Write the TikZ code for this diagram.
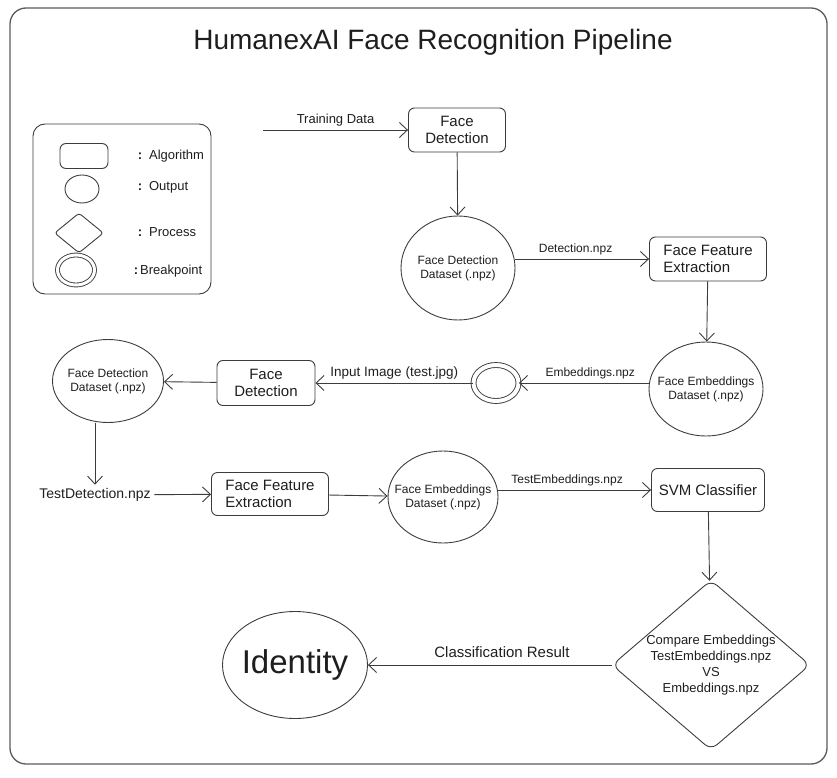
\documentclass[tikz,border=0pt]{standalone}
\usepackage{fontspec}
\setmainfont{Liberation Sans}
\usetikzlibrary{shapes.geometric,arrows.meta}
\definecolor{linegray}{HTML}{3C3C3C}
\definecolor{framegray}{HTML}{5A5A5A}
\definecolor{inkblack}{HTML}{1E1E1E}

\tikzset{
  algo/.style={draw=linegray, rounded corners=6pt, align=center, inner sep=0pt, text=inkblack, font=\fontsize{15}{17}\selectfont},
  outp/.style={draw=linegray, ellipse, align=center, inner sep=-10pt, text=inkblack, font=\fontsize{12}{14}\selectfont},
  proc/.style={draw=linegray, diamond, align=center, inner sep=0pt, text=inkblack, font=\fontsize{13}{16}\selectfont},
  flow/.style={draw=linegray, -{Straight Barb[length=8pt,width=15pt]}},
  lbl/.style={text=inkblack, font=\fontsize{12}{14}\selectfont},
  colon/.style={text=inkblack, font=\fontsize{13}{15}\selectfont, anchor=west}
}

\begin{document}
\begin{tikzpicture}[x=1pt, y=-1pt, line width=0.9pt]
      \useasboundingbox (0,0) rectangle (837,778);
      \draw[framegray, line width=1.3pt, rounded corners=16pt] (10,8) rectangle (827,764);

      \node[text=inkblack, font=\fontsize{28}{32}\selectfont] (title) at (433,42) {HumanexAI Face Recognition Pipeline};

      \node[draw=linegray, rounded corners=12pt, minimum width=178, minimum height=170] (legend) at (122,209) {};
      \node[algo, minimum width=48, minimum height=25] (lgalgo) at (84,156) {};
      \node[outp, minimum width=34, minimum height=28] (lgout) at (82,189) {};
      \node[proc, rounded corners=3pt, minimum width=49, minimum height=40] (lgproc) at (79,233) {};
      \node[outp, double, double distance=3pt, minimum width=37, minimum height=30] (lgbreak) at (76,270) {};
      \node[colon] (lgalgotext) at (134,156) {\textbf{:}\hspace{7pt}Algorithm};
      \node[colon] (lgouttext) at (134,187) {\textbf{:}\hspace{7pt}Output};
      \node[colon] (lgproctext) at (134,232) {\textbf{:}\hspace{7pt}Process};
      \node[colon] (lgbreaktext) at (130,271) {\textbf{:}\hspace{2pt}Breakpoint};

      \coordinate (train) at (263,130);
      \node[algo, minimum width=97, minimum height=44] (fdone) at (457,130) {Face\\Detection};
      \node[outp, minimum width=114, minimum height=104] (fddsone) at (458,268) {Face Detection\\Dataset (.npz)};
      \node[algo, align=left, minimum width=117, minimum height=44] (ffeone) at (708,259) {Face Feature\\Extraction};
      \node[outp, minimum width=114, minimum height=94] (fedsone) at (706,389) {Face Embeddings\\Dataset (.npz)};
      \node[outp, double, double distance=4pt, minimum width=45, minimum height=36] (brk) at (496,383) {};
      \node[algo, minimum width=98, minimum height=45] (fdtwo) at (266,383) {Face\\Detection};
      \node[outp, minimum width=111, minimum height=83] (fddstwo) at (108,381) {Face Detection\\Dataset (.npz)};
      \node[lbl, font=\fontsize{14}{16}\selectfont] (testdet) at (95,495) {TestDetection.npz};
      \node[algo, align=left, minimum width=117, minimum height=43] (ffetwo) at (270,494) {Face Feature\\Extraction};
      \node[outp, minimum width=110, minimum height=92] (fedstwo) at (443,497) {Face Embeddings\\Dataset (.npz)};
      \node[algo, minimum width=113, minimum height=43] (svm) at (708,490) {SVM Classifier};
      \node[proc, rounded corners=8pt, inner sep=-8pt, minimum width=198, minimum height=170] (compare) at (711,665) {Compare Embeddings\\TestEmbeddings.npz\\VS\\Embeddings.npz};
      \node[outp, minimum width=145, minimum height=107, font=\fontsize{33}{36}\selectfont] (identity) at (295,665) {Identity};

      \draw[flow] (train) -- (fdone) node[lbl, font=\fontsize{13}{15}\selectfont, midway, above] {Training Data};
      \draw[flow] (fdone) -- (fddsone);
      \draw[flow] (fddsone.east |- ffeone) -- (ffeone) node[lbl, pos=0.45, above] {Detection.npz};
      \draw[flow] (ffeone) -- (fedsone);
      \draw[flow] (fedsone.west |- brk) -- (brk) node[lbl, pos=0.45, above] {Embeddings.npz};
      \draw[flow] (brk) -- (fdtwo) node[lbl, font=\fontsize{13.5}{15}\selectfont, midway, above] {Input Image (test.jpg)};
      \draw[flow] (fdtwo) -- (fddstwo);
      \draw[flow] (fddstwo.south -| testdet) -- (testdet);
      \draw[flow] (testdet) -- (ffetwo);
      \draw[flow] (ffetwo) -- (fedstwo);
      \draw[flow] (fedstwo.east |- svm) -- (svm) node[lbl, pos=0.45, above] {TestEmbeddings.npz};
      \draw[flow] (svm) -- (compare);
      \draw[flow] (compare) -- (identity) node[lbl, font=\fontsize{15}{17}\selectfont, pos=0.45, above=4pt] {Classification Result};
    \end{tikzpicture}
\end{document}
